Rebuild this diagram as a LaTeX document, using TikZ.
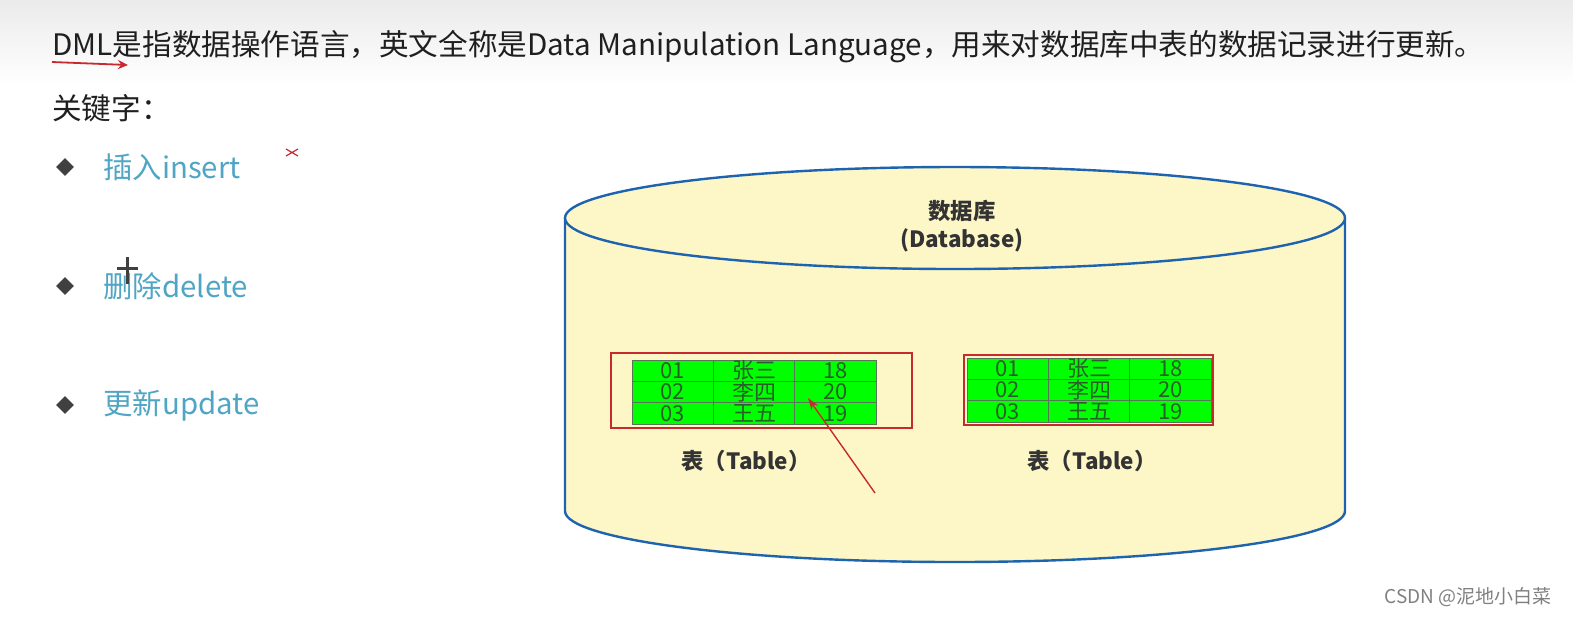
\documentclass[tikz,border=0pt]{standalone}
\usepackage{fontspec}
\setmainfont{Noto Sans CJK SC}
\usepackage{xcolor}
\usetikzlibrary{arrows.meta, positioning, calc, shapes.geometric}
\definecolor{dbfill}{HTML}{FDF6C6}
\definecolor{dbline}{HTML}{1D63AF}
\definecolor{keyblue}{HTML}{4FA5C3}
\definecolor{cellgreen}{HTML}{00FF00}
\definecolor{cellline}{HTML}{557755}
\definecolor{celltext}{HTML}{2A5F2A}
\definecolor{markred}{HTML}{C62A2F}

\begin{document}
\begin{tikzpicture}[x=0.5pt,y=-0.5pt,
  maintext/.style={anchor=west,inner sep=0pt,font=\fontsize{14.8}{17}\selectfont,text=black!88},
  keyword/.style={anchor=west,inner sep=0pt,font=\fontsize{14.7}{17}\selectfont,text=keyblue},
  bullet/.style={diamond,fill=black!75,inner sep=0pt,minimum size=9pt},
  dblabel/.style={inner sep=0pt,align=center,font=\bfseries\fontsize{11.2}{14}\selectfont,text=black!80},
  cell/.style={draw=cellline,fill=cellgreen,text=celltext,inner sep=0pt,
    minimum width=40.7pt,minimum height=10.67pt,font=\fontsize{11}{11}\selectfont},
  redbox/.style={draw=markred,line width=0.6pt}]
\useasboundingbox (0,0) rectangle (1573,618);
% Top band
\shade[top color=black!8,bottom color=white] (0,0) rectangle (1573,85);
% Intro text
\node[maintext] (intro) at (52,47) {DML是指数据操作语言，英文全称是Data Manipulation Language，用来对数据库中表的数据记录进行更新。};
\coordinate (ulA) at (52,62);
\coordinate (ulB) at (128,65);
\draw[markred,line width=0.9pt,-{Stealth[open,length=5pt,width=4.5pt]}] (ulA) -- (ulB);
\node[maintext] (keys) at (52,108) {关键字：};
% Keyword list
\foreach \i/\yy/\kw in {1/167/插入insert,2/286/删除delete,3/405/更新update}{
  \node[bullet] (b\i) at (65,\yy) {};
  \node[keyword] (k\i) at (103,\yy) {\kw};
}
% Screen marks
\draw[markred,line width=0.6pt] (286,149) -- (298,156) (286,156) -- (298,149);
\draw[black!75,line width=1.5pt] (117,268) -- (138,268) (127,257) -- (127,284);
% Cylinder
\fill[dbfill] (565,218) rectangle (1345,511);
\fill[dbfill] (955,511) ellipse[x radius=390,y radius=51];
\draw[dbline,line width=1.2pt] (565,218) -- (565,511)
  arc[start angle=180,end angle=0,x radius=390,y radius=51] -- (1345,218);
\filldraw[fill=dbfill,draw=dbline,line width=1.2pt] (955,218) ellipse[x radius=390,y radius=51];
\node[dblabel] (db) at (962,226) {数据库\\(Database)};
% Tables
\foreach \tb/\tx/\ty in {L/632/360,R/967/358}{
  \foreach \r/\id/\nm/\age in {1/01/张三/18,2/02/李四/20,3/03/王五/19}{
    \node[cell] (\tb id\r) at (\tx+40.7,\ty+21.33*\r-10.67) {\id};
    \node[cell] (\tb nm\r) at (\tx+122.1,\ty+21.33*\r-10.67) {\nm};
    \node[cell] (\tb age\r) at (\tx+203.5,\ty+21.33*\r-10.67) {\age};
  }
}
\draw[redbox] (611,353) rectangle (912,428);
\draw[redbox] (964,355) rectangle (1213,425);
\node[dblabel] (tabL) at (746,461) {表（Table）};
\node[dblabel] (tabR) at (1092,461) {表（Table）};
% Pointer
\coordinate (ptA) at (875,493);
\coordinate (ptB) at (808,398);
\draw[markred,line width=0.7pt,-{Stealth[length=6pt,width=4pt]}] (ptA) -- (ptB);
% Watermark
\node[anchor=east,inner sep=0pt,text=black!50,font=\fontsize{9.5}{11}\selectfont] (mark) at (1552,597) {CSDN @泥地小白菜};
\end{tikzpicture}
\end{document}
